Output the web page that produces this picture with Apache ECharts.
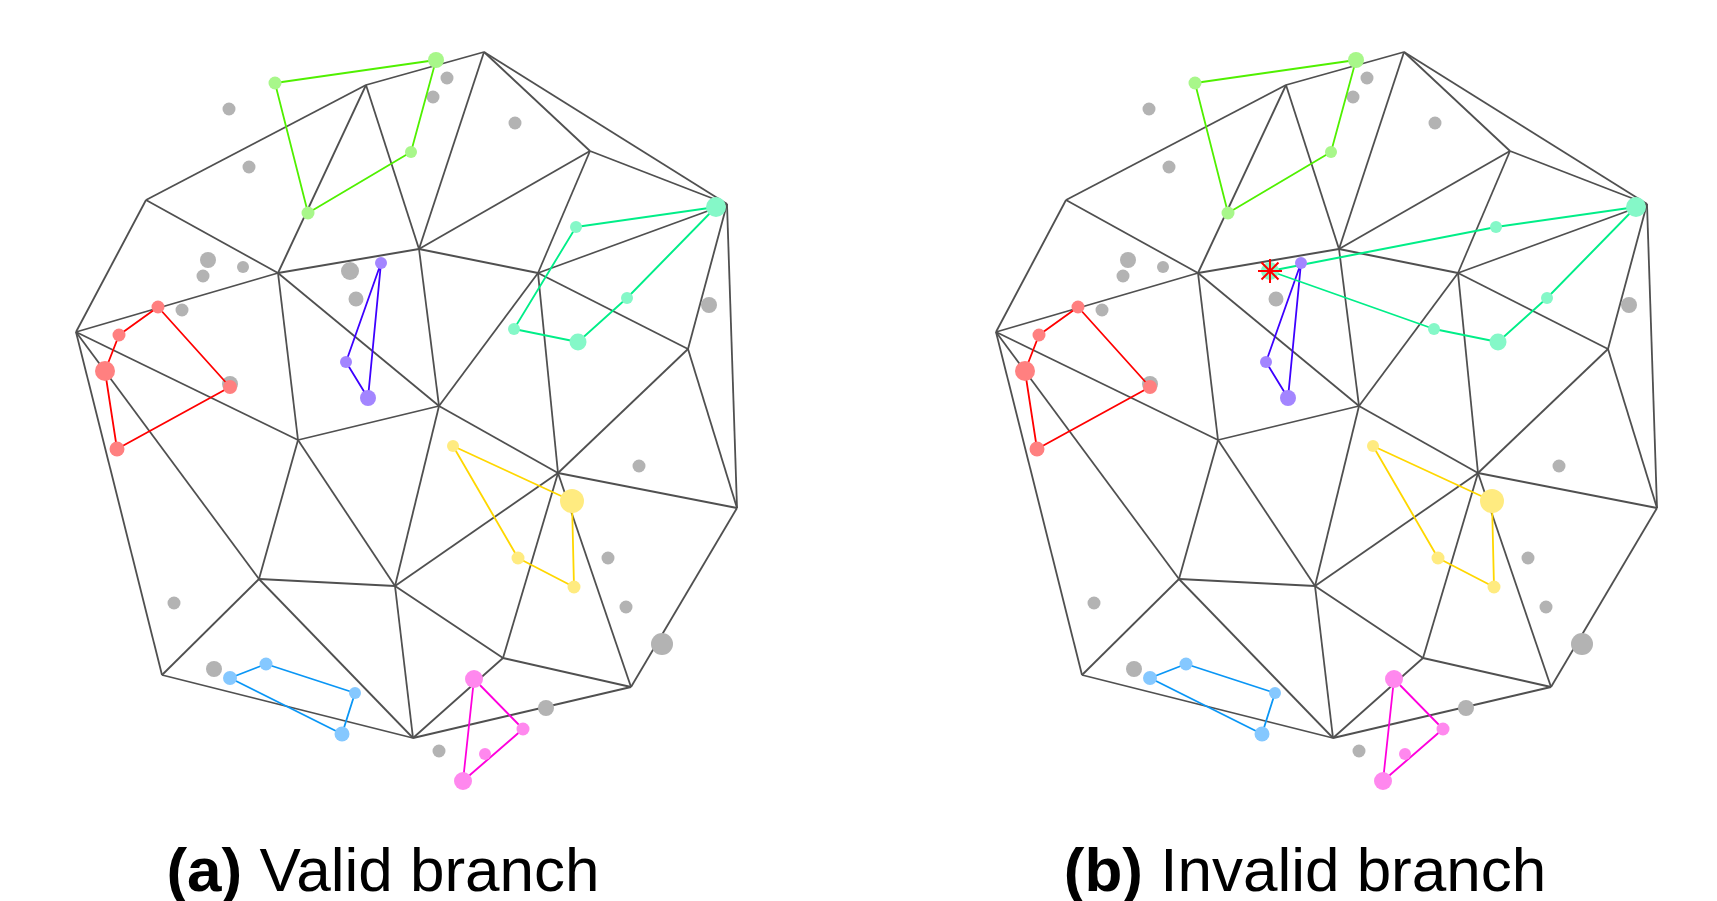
<!DOCTYPE html>
<html>
<head>
<meta charset="utf-8">
<script src="https://cdn.jsdelivr.net/npm/echarts@6.0.0/dist/echarts.min.js"></script>
<style>
  html, body { margin: 0; padding: 0; background: #fff; }
  #main { width: 1717px; height: 901px; }
</style>
</head>
<body>
<div id="main"></div>
<script>
  // triangulation vertices (pixel-like coords, y down)
  const vertices = {
    A: [484, 52], B: [366, 85], C: [146, 200], D: [76, 332], E: [278, 273],
    F: [419, 249], G: [590, 151], H: [727, 204], I: [538, 273], J: [688, 349],
    K: [439, 406], L: [298, 440], M: [737, 508], N: [558, 473], O: [259, 579],
    P: [395, 586], Q: [162, 675], R: [413, 738], S: [503, 658], T: [631, 687]
  };
  const edges = ['DC', 'CB', 'BA', 'AH', 'HM', 'MT', 'TR', 'RQ', 'QD',
    'CE', 'DE', 'BE', 'BF', 'EF', 'EL', 'EK', 'DL', 'DO', 'AF', 'AG', 'FG',
    'FI', 'FK', 'GI', 'GH', 'HI', 'IJ', 'HJ', 'IK', 'IN', 'JN', 'JM', 'KL',
    'KN', 'KP', 'LO', 'LP', 'OP', 'OQ', 'OR', 'PR', 'PN', 'PS', 'NS', 'NT',
    'NM', 'ST', 'SR'];

  // loose points [x, y, size]
  const grayA = [[229, 109, 13], [249, 167, 13], [208, 260, 16], [203, 276, 13],
    [243, 267, 12], [182, 310, 13], [350, 271, 18], [356, 299, 15], [433, 97, 13],
    [447, 78, 13], [515, 123, 13], [709, 305, 16], [174, 603, 13], [214, 669, 16],
    [439, 751, 13], [639, 466, 13], [608, 558, 13], [626, 607, 13], [662, 644, 22],
    [546, 708, 16], [230, 384, 16]];
  const grayB = grayA.filter((d, i) => i !== 6);

  // branches [x, y, size]
  const greenPath = [[275, 83, 13], [436, 60, 16], [411, 152, 12], [308, 213, 13]];
  const redPath = [[158, 307, 13], [119, 335, 13], [105, 371, 20], [117, 449, 15], [230, 387, 14]];
  const purplePath = [[381, 263, 12], [346, 362, 12], [368, 398, 16]];
  const cyanPathA = [[716, 207, 20], [576, 227, 12], [514, 329, 12], [578, 342, 17], [627, 298, 12]];
  const cyanPathB = [[716, 207, 20], [576, 227, 12], [350, 271, 18], [514, 329, 12], [578, 342, 17], [627, 298, 12]];
  const yellowPath = [[453, 446, 12], [572, 501, 24], [574, 587, 13], [518, 558, 13]];
  const bluePath = [[230, 678, 14], [266, 664, 13], [355, 693, 12], [342, 734, 15]];
  const magentaPath = [[474, 679, 18], [523, 729, 13], [463, 781, 18]];
  const magentaExtra = [[485, 754, 12]];
  const badPoint = [[350, 271]];

  const chart = echarts.init(document.getElementById('main'));

  function branch(p, pts, line, dot, extra) {
    const loop = pts.map(d => [d[0], d[1]]);
    loop.push(loop[0]);
    return [{
      type: 'line', xAxisIndex: p, yAxisIndex: p, data: loop,
      symbol: 'none', silent: true, z: 3,
      lineStyle: { color: line, width: 1.8 }
    }, {
      type: 'scatter', xAxisIndex: p, yAxisIndex: p,
      data: pts.concat(extra || []), silent: true, z: 4,
      symbolSize: v => v[2],
      itemStyle: { color: dot, opacity: 1 }
    }];
  }

  function panel(p, gray, cyan) {
    let s = [{
      type: 'lines', coordinateSystem: 'cartesian2d', xAxisIndex: p, yAxisIndex: p,
      silent: true, z: 1,
      lineStyle: { color: '#505050', width: 1.8, opacity: 1, curveness: 0 },
      data: edges.map(e => ({ coords: [vertices[e[0]], vertices[e[1]]] }))
    }, {
      type: 'scatter', xAxisIndex: p, yAxisIndex: p, data: gray, silent: true, z: 2,
      symbolSize: v => v[2],
      itemStyle: { color: '#b3b3b3', opacity: 1 }
    }];
    s = s.concat(branch(p, greenPath, '#50f000', '#a8f78a'));
    s = s.concat(branch(p, redPath, '#ff0000', '#ff8080'));
    s = s.concat(branch(p, purplePath, '#3d00ff', '#a385ff'));
    s = s.concat(branch(p, cyan, '#00ee88', '#85f8c8'));
    s = s.concat(branch(p, yellowPath, '#ffd700', '#ffeb80'));
    s = s.concat(branch(p, bluePath, '#0a96f5', '#85c8ff'));
    s = s.concat(branch(p, magentaPath, '#ff00dd', '#ff88ee', magentaExtra));
    return s;
  }

  const star = {
    type: 'custom', xAxisIndex: 1, yAxisIndex: 1, data: badPoint, silent: true, z: 5,
    renderItem: function (params, api) {
      const c = api.coord([api.value(0), api.value(1)]);
      const r = 12;
      const kids = [0, 45, 90, 135].map(a => {
        const t = a * Math.PI / 180;
        return {
          type: 'line',
          shape: { x1: c[0] - r * Math.cos(t), y1: c[1] - r * Math.sin(t),
                   x2: c[0] + r * Math.cos(t), y2: c[1] + r * Math.sin(t) },
          style: { stroke: '#ff0000', lineWidth: 2 }
        };
      });
      return { type: 'group', children: kids };
    }
  };

  const option = {
    animation: false,
    backgroundColor: '#ffffff',
    grid: [
      { left: 0, top: 0, width: 860, height: 901 },
      { left: 920, top: 0, width: 797, height: 901 }
    ],
    xAxis: [
      { gridIndex: 0, type: 'value', min: 0, max: 860, show: false },
      { gridIndex: 1, type: 'value', min: 0, max: 797, show: false }
    ],
    yAxis: [
      { gridIndex: 0, type: 'value', min: 0, max: 901, inverse: true, show: false },
      { gridIndex: 1, type: 'value', min: 0, max: 901, inverse: true, show: false }
    ],
    graphic: [
      {
        type: 'text', x: 383, y: 874,
        style: {
          text: '{b|(a)} Valid branch', align: 'center', verticalAlign: 'middle',
          fill: '#000', font: '62px "Liberation Sans", Arial, sans-serif',
          rich: { b: { fontWeight: 'bold', fontSize: 62, fontFamily: 'Liberation Sans' } }
        }
      },
      {
        type: 'text', x: 1305, y: 874,
        style: {
          text: '{b|(b)} Invalid branch', align: 'center', verticalAlign: 'middle',
          fill: '#000', font: '62px "Liberation Sans", Arial, sans-serif',
          rich: { b: { fontWeight: 'bold', fontSize: 62, fontFamily: 'Liberation Sans' } }
        }
      }
    ],
    series: panel(0, grayA, cyanPathA).concat(panel(1, grayB, cyanPathB)).concat([star])
  };

  chart.setOption(option);
</script>
</body>
</html>
